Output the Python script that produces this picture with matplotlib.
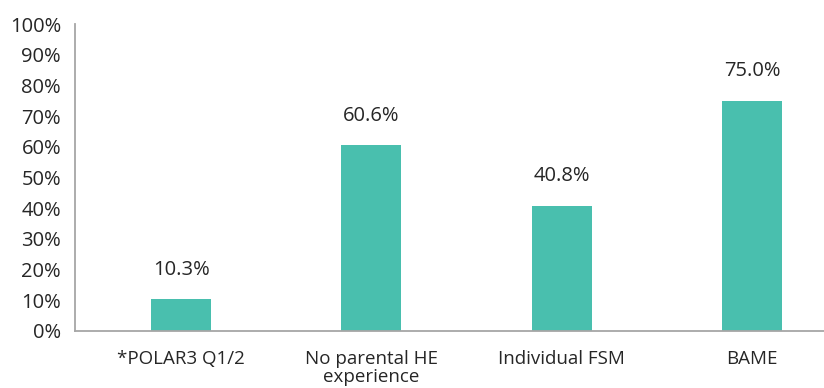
import matplotlib.pyplot as plt
from matplotlib.ticker import PercentFormatter

categories = ['*POLAR3 Q1/2', 'No parental HE\nexperience', 'Individual FSM', 'BAME']
values = [10.3, 60.6, 40.8, 75.0]
y_ticks = list(range(0, 101, 10))

plt.rcParams['font.family'] = ['Open Sans', 'DejaVu Sans']

fig = plt.figure(figsize=(8.24, 3.88), dpi=100)
ax = fig.add_axes([0.091, 0.147, 0.909, 0.791])

x = range(len(categories))
ax.bar(x, values, width=0.316, color='#49BFAE')

for xi, v in zip(x, values):
    ax.annotate(f'{v:.1f}%', (xi, v), xytext=(0, 14), textcoords='offset points',
                ha='center', va='bottom', fontsize=14.5, color='#262626')

ax.set_xlim(-0.558, 3.379)
ax.set_ylim(0, 100)
ax.set_yticks(y_ticks)
ax.yaxis.set_major_formatter(PercentFormatter(decimals=0))
ax.set_xticks(list(x))
ax.set_xticklabels(categories, va='top', linespacing=1.0)
ax.tick_params(axis='both', length=0, labelcolor='#262626')
ax.tick_params(axis='y', pad=10, labelsize=14.5)
ax.tick_params(axis='x', pad=14, labelsize=13.5)

for side in ['top', 'right']:
    ax.spines[side].set_visible(False)
for side in ['left', 'bottom']:
    ax.spines[side].set_color('#A6A6A6')
    ax.spines[side].set_linewidth(1.3)

fig.savefig('out.png', dpi=100)
